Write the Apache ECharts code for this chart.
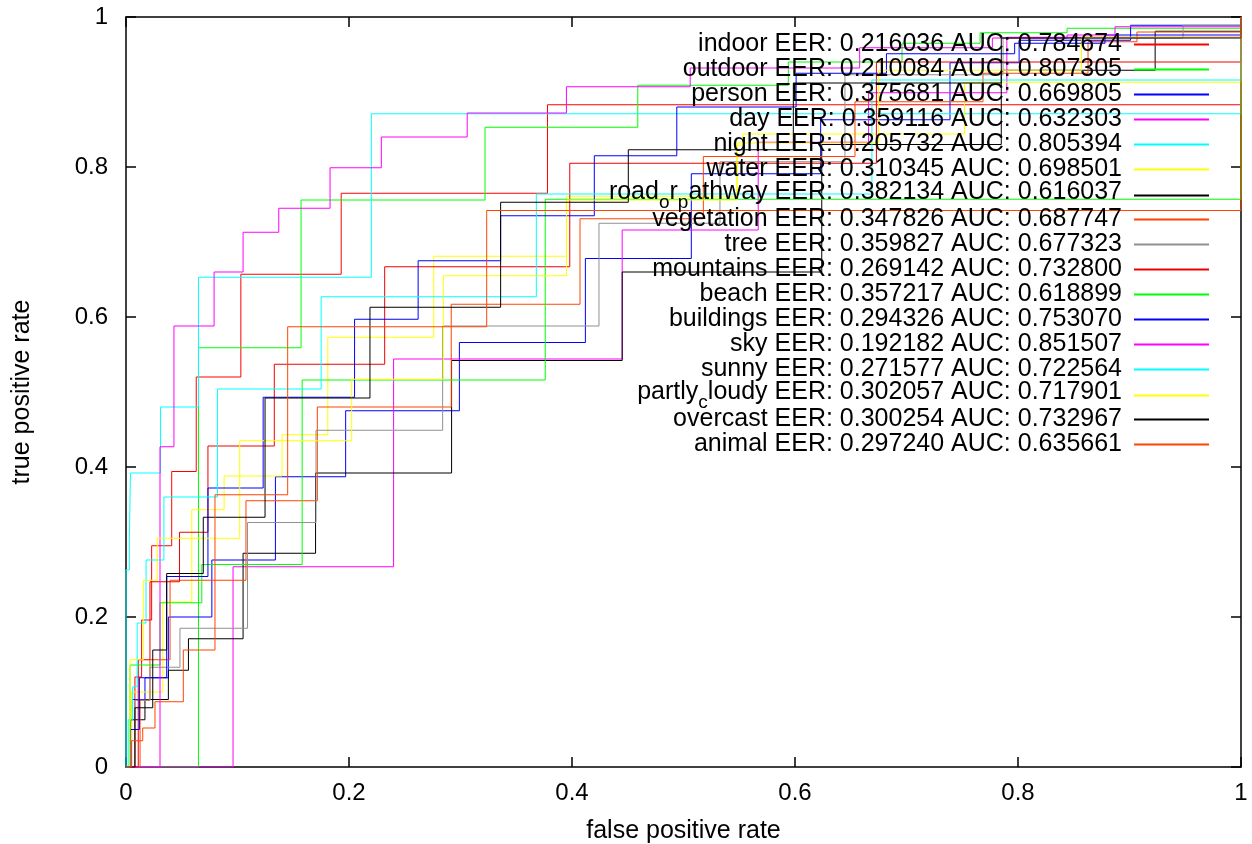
<!DOCTYPE html>
<html><head><meta charset="utf-8">
<script src="https://cdn.jsdelivr.net/npm/echarts@6/dist/echarts.min.js"></script>
<style>html,body{margin:0;padding:0;background:#fff}#c{width:1252px;height:844px}</style>
</head><body><div id="c"></div>
<script>
// ---- data (fpr, tpr) corner points: at each fpr the curve rises to tpr ----
const classNames = ['indoor','outdoor','person','day','night','water','road_or_pathway','vegetation','tree','mountains','beach','buildings','sky','sunny','partly_cloudy','overcast','animal'];
const eerValues = [0.216036,0.210084,0.375681,0.359116,0.205732,0.310345,0.382134,0.347826,0.359827,0.269142,0.357217,0.294326,0.192182,0.271577,0.302057,0.300254,0.297240];
const aucValues = [0.784674,0.807305,0.669805,0.632303,0.805394,0.698501,0.616037,0.687747,0.677323,0.732800,0.618899,0.753070,0.851507,0.722564,0.717901,0.732967,0.635661];
const lineColors = ['#ff0000','#00ff00','#0000ff','#ff00ff','#00ffff','#ffff00','#000000','#ff4500','#909090','#ee0000','#00ff00','#0000ff','#ff00ff','#00ffff','#ffff00','#000000','#ff4500'];
const tickLabels = ['0','0.2','0.4','0.6','0.8','1'];

const indoor = [[0,0],[0.008,0.12],[0.014,0.196],[0.023,0.295],[0.041,0.394],[0.063,0.52],[0.103,0.657],[0.193,0.765],[0.378,0.883],[1,1]];
const outdoor = [[0,0],[0.065,0.559],[0.157,0.756],[0.322,0.853],[0.459,0.909],[0.594,0.94],[0.696,0.965],[0.766,0.979],[0.844,0.985],[1,1]];
const person = [[0,0],[0.005,0.09],[0.017,0.119],[0.038,0.2],[0.077,0.276],[0.134,0.387],[0.197,0.475],[0.299,0.566],[0.412,0.678],[0.507,0.791],[0.623,0.863],[0.739,0.939],[0.801,0.969],[0.901,0.989],[1,1]];
const day = [[0,0],[0.096,0.267],[0.24,0.544],[0.445,0.716],[0.567,0.833],[0.666,0.899],[0.79,0.973],[1,1]];
const night = [[0,0],[0,0.263],[0.003,0.305],[0.004,0.392],[0.031,0.48],[0.065,0.653],[0.22,0.871],[1,1]];
const water = [[0,0],[0.005,0.1],[0.033,0.22],[0.059,0.343],[0.088,0.388],[0.14,0.443],[0.181,0.573],[0.276,0.681],[0.395,0.761],[0.548,0.829],[0.553,0.844],[0.752,0.913],[1,1]];
const roadOrPathway = [[0,0],[0.004,0.063],[0.017,0.09],[0.038,0.129],[0.056,0.171],[0.105,0.285],[0.17,0.392],[0.292,0.542],[0.445,0.66],[0.624,0.83],[0.785,0.929],[0.923,0.981],[1,1]];
const vegetation = [[0,0],[0.0126,0.089],[0.0215,0.143],[0.0395,0.249],[0.1076,0.355],[0.1716,0.48],[0.2917,0.617],[0.4072,0.731],[0.5178,0.814],[0.6538,0.887],[0.7686,0.925],[0.8628,0.967],[0.9067,0.98],[1,1]];
const tree = [[0,0],[0.008,0.089],[0.0215,0.133],[0.0484,0.185],[0.109,0.326],[0.1704,0.449],[0.284,0.588],[0.4242,0.725],[0.5327,0.807],[0.6448,0.923],[0.7866,0.972],[0.948,0.989],[1,1]];
const mountains = [[0,0],[0.011,0.143],[0.0215,0.247],[0.048,0.313],[0.0735,0.428],[0.133,0.537],[0.232,0.667],[0.398,0.805],[0.673,0.94],[1,1]];
const beach = [[0,0],[0.0036,0.136],[0.0305,0.219],[0.068,0.27],[0.158,0.516],[0.376,0.757],[1,1]];
const buildings = [[0,0],[0.004,0.05],[0.012,0.119],[0.0365,0.254],[0.0735,0.372],[0.123,0.493],[0.205,0.597],[0.262,0.675],[0.336,0.735],[0.42,0.815],[0.494,0.88],[0.601,0.925],[0.682,0.951],[0.797,0.965],[0.878,0.976],[1,1]];
const sky = [[0,0],[0.0305,0.427],[0.043,0.588],[0.079,0.66],[0.105,0.713],[0.137,0.745],[0.183,0.799],[0.229,0.84],[0.306,0.872],[0.395,0.907],[0.506,0.932],[0.658,0.959],[0.777,0.972],[0.844,0.976],[0.887,0.987],[1,1]];
const sunny = [[0,0],[0.002,0.063],[0.006,0.107],[0.01,0.192],[0.018,0.276],[0.034,0.36],[0.082,0.504],[0.175,0.627],[0.368,0.764],[0.669,0.916],[1,1]];
const partlyCloudy = [[0,0],[0.0036,0.143],[0.0155,0.249],[0.028,0.305],[0.102,0.435],[0.2024,0.517],[0.2846,0.655],[0.395,0.756],[0.548,0.832],[0.675,0.929],[0.857,0.973],[1,1]];
const overcast = [[0,0],[0.008,0.079],[0.024,0.156],[0.0365,0.258],[0.0693,0.333],[0.1247,0.492],[0.2188,0.613],[0.336,0.753],[0.4505,0.823],[0.5985,0.912],[0.785,0.972],[1,1]];
const animal = [[0,0],[0.005,0.035],[0.015,0.052],[0.026,0.087],[0.0514,0.156],[0.0798,0.363],[0.145,0.587],[0.3235,0.742],[1,1]];

const curves = [indoor,outdoor,person,day,night,water,roadOrPathway,vegetation,tree,mountains,beach,buildings,sky,sunny,partlyCloudy,overcast,animal];

const FONT = 'Liberation Sans';
const labels = classNames.map((n,i)=> n + ' EER: ' + eerValues[i].toFixed(6) + ' AUC: ' + aucValues[i].toFixed(6));

// gnuplot enhanced text: '_' subscripts the next character
function richName(name){
  const i = labels.indexOf(name);
  const n = classNames[i];
  const tail = ' EER: ' + eerValues[i].toFixed(6) + ' AUC: ' + aucValues[i].toFixed(6);
  if (n.indexOf('_') < 0) return '{n|' + n + tail + '}';
  let out = '', buf = '';
  for (let k = 0; k < n.length; k++) {
    if (n[k] === '_' && k + 1 < n.length) {
      if (buf) { out += '{m|' + buf + '}'; buf = ''; }
      out += '{s|' + n[k+1] + '}';
      k++;
    } else buf += n[k];
  }
  out += '{m|' + buf + tail + '}';
  return out;
}

const chart = echarts.init(document.getElementById('c'), null, {renderer:'canvas'});
const axisLine = {show:true, onZero:false, lineStyle:{color:'#000', width:1.5}};
const axisTick = {show:true, inside:true, length:10, lineStyle:{color:'#000', width:1.5}};
const labelStyle = {color:'#000', fontSize:24, fontFamily:FONT, formatter: v => tickLabels[Math.round(v/0.2)]};
const nameStyle = {color:'#000', fontSize:25, fontFamily:FONT};

// one key row per legend component, 25 px apart (gnuplot key layout)
const legends = labels.map((lab, i) => ({
  orient:'vertical', right:42, top:32 + 25*i - (classNames[i].indexOf('_') >= 0 ? 2 : 0),
  padding:0, itemGap:0,
  itemWidth:75, itemHeight:25, align:'right', selectedMode:false,
  itemStyle:{opacity:0},
  data:[lab],
  formatter: richName,
  textStyle:{color:'#000', fontSize:25, fontFamily:FONT, padding:[0,7,0,0],
    rich:{
      n:{fontSize:25, fontFamily:FONT, color:'#000', lineHeight:25, verticalAlign:'top'},
      m:{fontSize:25, fontFamily:FONT, color:'#000', height:19, verticalAlign:'top'},
      s:{fontSize:19, fontFamily:FONT, color:'#000', height:11, padding:[14,0,0,0], verticalAlign:'top'}
    }}
}));

chart.setOption({
  animation:false,
  backgroundColor:'#fff',
  grid:{left:126, right:11, top:17, bottom:77, outerBoundsMode:'none', containLabel:false},
  xAxis:[
    {type:'value', min:0, max:1, interval:0.2, position:'bottom', axisLine, axisTick,
     axisLabel:Object.assign({margin:14}, labelStyle), splitLine:{show:false},
     name:'false positive rate', nameLocation:'middle', nameGap:52, nameTextStyle:nameStyle},
    {type:'value', min:0, max:1, interval:0.2, position:'top', axisLine, axisTick,
     axisLabel:{show:false}, splitLine:{show:false}}
  ],
  yAxis:[
    {type:'value', min:0, max:1, interval:0.2, position:'left', axisLine, axisTick,
     axisLabel:Object.assign({margin:18}, labelStyle), splitLine:{show:false},
     name:'true positive rate', nameLocation:'middle', nameGap:91, nameTextStyle:nameStyle},
    {type:'value', min:0, max:1, interval:0.2, position:'right', axisLine, axisTick,
     axisLabel:{show:false}, splitLine:{show:false}}
  ],
  legend: legends,
  series: curves.map((d,i)=>({
    name:labels[i], type:'line', data:d, step:'end', symbol:'none', showSymbol:false,
    lineStyle:{color:lineColors[i], width:1}, itemStyle:{color:lineColors[i]},
    silent:true, clip:true, z:2
  }))
});
</script></body></html>
